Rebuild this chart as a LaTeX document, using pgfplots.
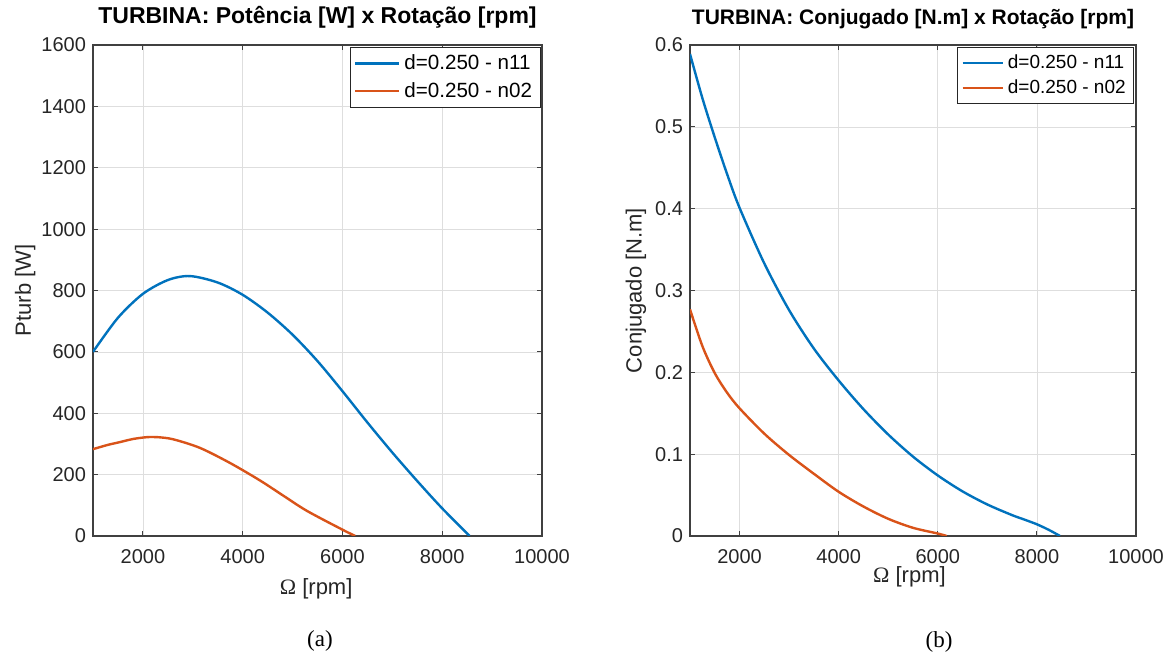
\documentclass[border=0pt]{standalone}
\usepackage{pgfplots}
\pgfplotsset{compat=1.18}
\usepackage{fontspec}
\setmainfont{Liberation Sans}
\newfontfamily\seriffont{Liberation Serif}
\definecolor{mblue}{rgb}{0,0.447,0.741}
\definecolor{morange}{rgb}{0.85,0.325,0.098}
\definecolor{maxis}{rgb}{0.25,0.25,0.25}
\definecolor{mtick}{rgb}{0.15,0.15,0.15}
\definecolor{mgrid}{rgb}{0.87,0.87,0.87}
\pgfplotsset{
  mstyle/.style={
    scale only axis,
    height=245.5pt,
    xmin=1000, xmax=10000,
    xtick={2000,4000,6000,8000,10000},
    grid=major,
    major grid style={line width=0.3pt, mgrid},
    axis line style={line width=0.6pt, maxis},
    tick style={line width=0.5pt, maxis},
    major tick length=2.7pt,
    tick align=inside,
    xtick pos=both, ytick pos=both,
    tick label style={font=\fontsize{10}{12}\selectfont, text=mtick},
    /pgf/number format/assume math mode=true,
    /pgf/number format/1000 sep={},
    scaled ticks=false,
    xticklabel style={yshift=-3pt},
    label style={font=\fontsize{11}{13}\selectfont, text=mtick},
    legend cell align=left,
  },
  every axis plot/.append style={line width=1.2pt, smooth, tension=0.5},
}
\begin{document}
\begin{tikzpicture}
\useasboundingbox (0,0) rectangle (583pt,328.5pt);
\begin{axis}[mstyle,
  at={(46.5pt,60.5pt)}, anchor=south west,
  width=224.5pt,
  ymin=0, ymax=1600, ytick={0,200,...,1600},
  title={\fontsize{11.5}{13}\selectfont\bfseries TURBINA: Potência [W] x Rotação [rpm]},
  title style={at={(0.5,1)}, anchor=south, inner sep=2pt},
  xlabel={{\seriffont Ω} [rpm]},
  xlabel style={at={(axis description cs:0.497,-0.108)}, anchor=center},
  ylabel={Pturb [W]},
  ylabel style={at={(axis description cs:-0.151,0.5)}, anchor=center},
  legend style={at={(0.997,0.996)}, anchor=north east, draw=black!85, line width=0.5pt,
      font=\fontsize{10.3}{12}\selectfont, inner xsep=2pt, inner ysep=1.6pt, row sep=0.8pt},
  legend image code/.code={\draw[#1] (0pt,0pt) -- (22pt,0pt);},
]
\addplot[mblue] coordinates {
(1000,600) (1500,711) (2000,789) (2500,834) (2944,847) (3500,826) (4000,786)
(4500,728) (5000,656) (5500,570) (6000,472) (6500,370) (7000,272) (7500,179)
(8000,90) (8550,0)};
\addlegendentry{d=0.250 - n11}
\addplot[morange] coordinates {
(1000,283) (1300,297) (1541,306) (1800,316) (2076,322) (2300,322) (2610,315)
(3145,287) (3746,238) (4347,181) (4800,133) (5287,82) (5996,21) (6257,0)};
\addlegendentry{d=0.250 - n02}
\end{axis}
\begin{axis}[mstyle,
  at={(345pt,60.5pt)}, anchor=south west,
  width=223pt,
  ymin=0, ymax=0.6, ytick={0,0.1,...,0.6},
  yticklabel style={/pgf/number format/fixed, /pgf/number format/precision=1},
  title={\fontsize{10.5}{13}\selectfont\bfseries TURBINA: Conjugado [N.m] x Rotação [rpm]},
  title style={at={(0.5,1)}, anchor=south, inner sep=2pt},
  xlabel={{\seriffont Ω} [rpm]},
  xlabel style={at={(axis description cs:0.492,-0.0835)}, anchor=center},
  ylabel={Conjugado [N.m]},
  ylabel style={at={(axis description cs:-0.121,0.5)}, anchor=center},
  legend style={at={(0.996,0.996)}, anchor=north east, draw=black!85, line width=0.5pt,
      font=\fontsize{9.5}{11}\selectfont, inner xsep=2pt, inner ysep=1.5pt, row sep=0.1pt},
  legend image code/.code={\draw[#1] (0pt,0pt) -- (20pt,0pt);},
]
\addplot[mblue] coordinates {
(1000,0.589) (1250,0.535) (1500,0.487) (1750,0.442) (2000,0.401) (2500,0.333)
(3000,0.276) (3500,0.229) (4000,0.190) (4500,0.155) (5000,0.124) (5500,0.097)
(6000,0.074) (6500,0.0545) (7000,0.0385) (7500,0.0255) (7750,0.0200) (8000,0.0143)
(8250,0.0072) (8466,0)};
\addlegendentry{d=0.250 - n11}
\addplot[morange] coordinates {
(1000,0.277) (1250,0.232) (1500,0.199) (1750,0.175) (2000,0.156) (2500,0.125)
(3000,0.099) (3500,0.076) (4000,0.054) (4500,0.036) (5000,0.021) (5500,0.010)
(6000,0.003) (6180,0)};
\addlegendentry{d=0.250 - n02}
\end{axis}
\node[font=\seriffont\fontsize{11.5}{13}\selectfont] at (160pt,8pt) {(a)};
\node[font=\seriffont\fontsize{11.5}{13}\selectfont] at (469.5pt,7.5pt) {(b)};
\end{tikzpicture}
\end{document}
